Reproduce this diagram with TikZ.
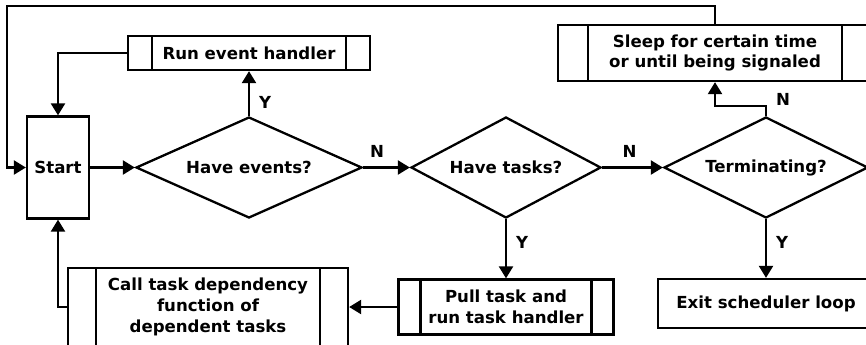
\documentclass[tikz,border=0pt]{standalone}
\usepackage{fontspec}
\setmainfont{DejaVu Sans}
\usetikzlibrary{shapes.geometric,arrows.meta}

\begin{document}
\begin{tikzpicture}[x=0.5pt, y=-0.5pt, line width=1.15pt,
    font=\fontsize{8.3}{10.3}\selectfont\bfseries,
    subproc/.style={block, path picture={
      \draw ([xshift=#1]path picture bounding box.north west) -- ([xshift=#1]path picture bounding box.south west);
      \draw ([xshift=-#1]path picture bounding box.north east) -- ([xshift=-#1]path picture bounding box.south east);}}]
  \tikzstyle{decision}=[draw, diamond, inner sep=0pt, aspect=2]
  \tikzstyle{block}=[draw, rectangle, align=center, inner sep=0pt]
  \tikzstyle{arr}=[-{Triangle[length=6pt,width=7pt]}]
  \tikzstyle{lbl}=[inner sep=4.5pt]
  \useasboundingbox (0,0) rectangle (866,344);
% nodes
  \node[block, minimum width=31pt, minimum height=51pt] (start) at (58,167.5) {Start};
  \node[decision, minimum width=113pt, minimum height=50.5pt] (events) at (249,167.5) {Have events?};
  \node[decision, minimum width=95pt, minimum height=50.5pt] (tasks) at (506,167.5) {Have tasks?};
  \node[decision, minimum width=102pt, minimum height=50.5pt] (term) at (766,167.5) {Terminating?};
  \node[subproc=12pt, minimum width=121pt, minimum height=17pt] (runevt) at (249,53) {Run event handler};
  \node[subproc=15pt, minimum width=157pt, minimum height=28pt] (sleep) at (715,53) {Sleep for certain time\\or until being signaled};
  \node[subproc=11pt, minimum width=107.5pt, minimum height=27.5pt] (pull) at (506,307) {Pull task and\\run task handler};
  \node[subproc=14pt, minimum width=140pt, minimum height=39pt] (calldep) at (208,307) {Call task dependency\\function of\\dependent tasks};
  \node[block, minimum width=108pt, minimum height=24.5pt] (exitloop) at (766,303.5) {Exit scheduler loop};
  \coordinate (topleft) at (7,6);
% connectors
  \draw[arr] (start.east) -- (events.west);
  \draw[arr] (events.east) -- node[lbl, above, pos=0.3] {N} (tasks.west);
  \draw[arr] (tasks.east) -- node[lbl, above, pos=0.45] {N} (term.west);
  \draw[arr] (events.north) -- node[lbl, right, pos=0.3] {Y} (runevt.south);
  \draw[arr] (runevt.west) -| (start.north);
  \draw[arr] (tasks.south) -- node[lbl, right, pos=0.4] {Y} (pull.north);
  \draw[arr] (term.south) -- node[lbl, right, pos=0.4] {Y} (exitloop.north);
  \draw[arr] (pull.west) -- (calldep.east);
  \draw[arr] (calldep.west) -| (start.south);
  \draw[arr] (term.north) -- ++(0,5pt) node[lbl, right, yshift=3pt] {N} -| (sleep.south);
  \draw[arr] (sleep.north) |- (topleft) |- (start.west);
\end{tikzpicture}
\end{document}
